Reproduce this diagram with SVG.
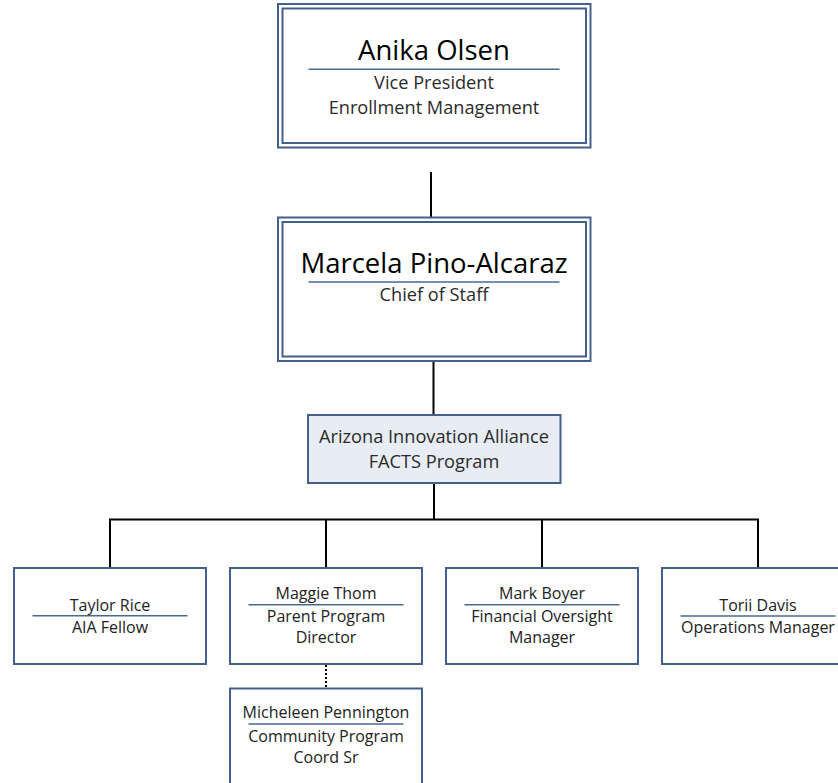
<svg xmlns="http://www.w3.org/2000/svg" width="838" height="783" viewBox="0 0 838 783">
<style>
.box{fill:#ffffff;stroke:#445f88;stroke-width:2}
.prog{fill:#e8ecf4;stroke:#445f88;stroke-width:2}
.rule{stroke:#4a6896;stroke-width:1.6}
.conn{stroke:#000;stroke-width:2;fill:none}
.dot{stroke:#000;stroke-width:2;stroke-dasharray:2 2;fill:none}
text{font-family:"Open Sans","Liberation Sans",sans-serif;text-anchor:middle}
.big{font-size:27.5px;fill:#000}
.sub{font-size:18.2px;fill:#2b2b2b}
.sm{font-size:16px;fill:#222}
</style>
<rect width="838" height="783" fill="#fff"/>
<g id="connectors">
<line class="conn" x1="431" y1="172" x2="431" y2="217"/>
<line class="conn" x1="433.5" y1="362" x2="433.5" y2="415"/>
<line class="conn" x1="434" y1="483" x2="434" y2="519.5"/>
<line class="conn" x1="109" y1="519.5" x2="759" y2="519.5"/>
<line class="conn" x1="110" y1="519.5" x2="110" y2="568"/>
<line class="conn" x1="326" y1="519.5" x2="326" y2="568"/>
<line class="conn" x1="542" y1="519.5" x2="542" y2="568"/>
<line class="conn" x1="758" y1="519.5" x2="758" y2="568"/>
<line class="dot" x1="326" y1="665" x2="326" y2="688"/>
</g>
<g id="anika">
<rect class="box" x="278" y="4" width="312.5" height="143.5"/>
<rect class="box" x="282.5" y="8.5" width="303.5" height="134.5"/>
<text class="big" x="434" y="60">Anika Olsen</text>
<line class="rule" x1="308.5" y1="69.3" x2="559.5" y2="69.3"/>
<text class="sub" x="434" y="89">Vice President</text>
<text class="sub" x="434" y="114">Enrollment Management</text>
</g>
<g id="marcela">
<rect class="box" x="278" y="217.5" width="312.5" height="143.5"/>
<rect class="box" x="282.5" y="222" width="303.5" height="134.5"/>
<text class="big" x="434" y="273">Marcela Pino-Alcaraz</text>
<line class="rule" x1="308.5" y1="282" x2="559.5" y2="282"/>
<text class="sub" x="434" y="301">Chief of Staff</text>
</g>
<g id="program">
<rect class="prog" x="308" y="415" width="252.5" height="68"/>
<text class="sub" x="434" y="443">Arizona Innovation Alliance</text>
<text class="sub" x="434" y="468">FACTS Program</text>
</g>
<g id="taylor">
<rect class="box" x="14" y="568" width="192" height="96"/>
<text class="sm" x="110" y="611">Taylor Rice</text>
<line class="rule" x1="32.5" y1="615.7" x2="187.5" y2="615.7"/>
<text class="sm" x="110" y="633">AIA Fellow</text>
</g>
<g id="maggie">
<rect class="box" x="230" y="568" width="192" height="96"/>
<text class="sm" x="326" y="599">Maggie Thom</text>
<line class="rule" x1="248.5" y1="604.7" x2="403.5" y2="604.7"/>
<text class="sm" x="326" y="621.7">Parent Program</text>
<text class="sm" x="326" y="643.3">Director</text>
</g>
<g id="mark">
<rect class="box" x="446" y="568" width="192" height="96"/>
<text class="sm" x="542" y="599">Mark Boyer</text>
<line class="rule" x1="464.5" y1="604.7" x2="619.5" y2="604.7"/>
<text class="sm" x="542" y="621.7">Financial Oversight</text>
<text class="sm" x="542" y="643.3">Manager</text>
</g>
<g id="torii">
<rect class="box" x="662" y="568" width="192" height="96"/>
<text class="sm" x="758" y="611">Torii Davis</text>
<line class="rule" x1="680.5" y1="616" x2="835.5" y2="616"/>
<text class="sm" x="758" y="633">Operations Manager</text>
</g>
<g id="micheleen">
<rect class="box" x="230" y="688.5" width="192" height="110"/>
<text class="sm" x="326" y="718.3">Micheleen Pennington</text>
<line class="rule" x1="248.5" y1="724" x2="403.5" y2="724"/>
<text class="sm" x="326" y="741.7">Community Program</text>
<text class="sm" x="326" y="762.7">Coord Sr</text>
</g>
</svg>
